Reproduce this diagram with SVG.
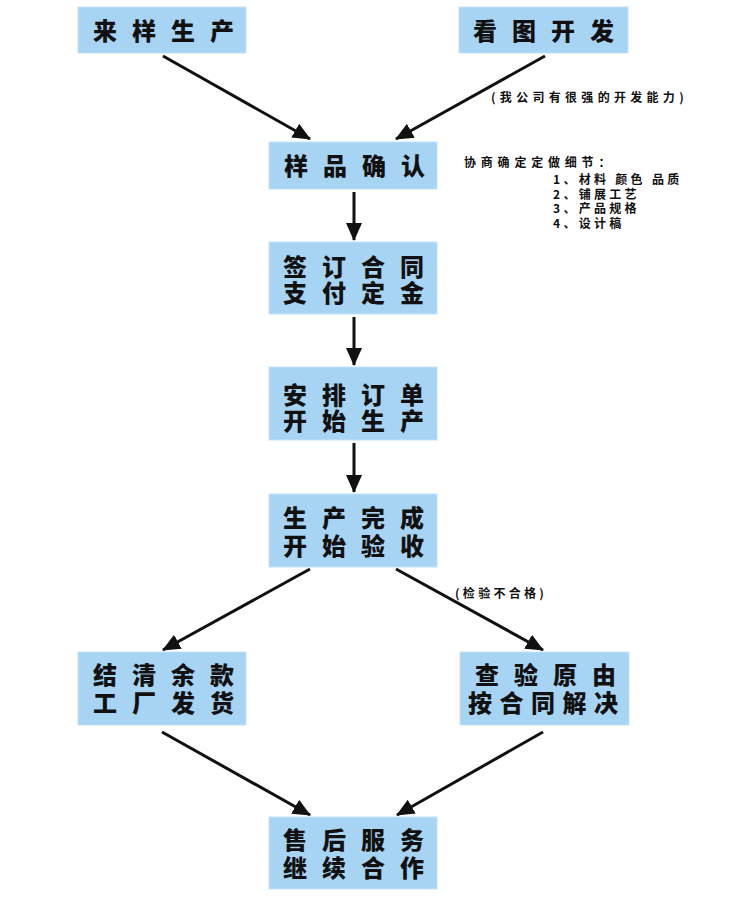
<svg xmlns="http://www.w3.org/2000/svg" width="750" height="917" viewBox="0 0 750 917">
<defs>
<style>
.box{fill:#A8D4F4;stroke:#C4E2F7;stroke-width:1}
.t{font-family:"Noto Sans CJK SC","Noto Sans",sans-serif;font-weight:900;font-size:24px;fill:#111}
.s4{letter-spacing:15px}
.s5{letter-spacing:7.5px}
.note{font-family:"Noto Sans CJK SC","Noto Sans",sans-serif;font-weight:700;font-size:12px;fill:#111;letter-spacing:3.3px}
.c{stroke:#111;stroke-width:3;fill:none;marker-end:url(#ah)}
</style>
<marker id="ah" markerUnits="userSpaceOnUse" markerWidth="18" markerHeight="16" viewBox="0 0 18 16" refX="17" refY="8" orient="auto">
<path d="M0,0 L18,8 L0,16 Z" fill="#111"/>
</marker>
</defs>
<rect width="750" height="917" fill="#fff"/>
<g id="connectors">
<line class="c" x1="163" y1="56" x2="310" y2="139"/>
<line class="c" x1="545" y1="56" x2="396" y2="139"/>
<line class="c" x1="354" y1="192" x2="354" y2="240"/>
<line class="c" x1="354" y1="317" x2="354" y2="365"/>
<line class="c" x1="354" y1="443" x2="354" y2="492"/>
<line class="c" x1="310" y1="569" x2="163" y2="650"/>
<line class="c" x1="396" y1="569" x2="543" y2="650"/>
<line class="c" x1="162" y1="732" x2="310" y2="815"/>
<line class="c" x1="543" y1="732" x2="397" y2="815"/>
</g>
<g id="n1"><rect class="box" x="78" y="7" width="168" height="46"/><text class="t s4" x="93" y="40">来样生产</text></g>
<g id="n2"><rect class="box" x="459" y="7" width="169" height="46"/><text class="t s4" x="473" y="40">看图开发</text></g>
<g id="n3"><rect class="box" x="269" y="142" width="168" height="47"/><text class="t s4" x="284" y="175">样品确认</text></g>
<g id="n4"><rect class="box" x="269" y="242" width="168" height="72"/><text class="t s4" x="283" y="276">签订合同</text><text class="t s4" x="283" y="302">支付定金</text></g>
<g id="n5"><rect class="box" x="269" y="367" width="168" height="73"/><text class="t s4" x="283" y="404">安排订单</text><text class="t s4" x="283" y="430">开始生产</text></g>
<g id="n6"><rect class="box" x="269" y="494" width="168" height="73"/><text class="t s4" x="283" y="527">生产完成</text><text class="t s4" x="283" y="555">开始验收</text></g>
<g id="n7"><rect class="box" x="78" y="652" width="168" height="73"/><text class="t s4" x="93" y="684">结清余款</text><text class="t s4" x="93" y="712">工厂发货</text></g>
<g id="n8"><rect class="box" x="460" y="652" width="169" height="73"/><text class="t s4" x="475" y="684">查验原由</text><text class="t s5" x="468" y="712">按合同解决</text></g>
<g id="n9"><rect class="box" x="269" y="817" width="168" height="72"/><text class="t s4" x="283" y="849">售后服务</text><text class="t s4" x="283" y="877">继续合作</text></g>
<g id="notes">
<text class="note" x="491" y="102" style="letter-spacing:4.3px">(我公司有很强的开发能力)</text>
<text class="note" x="464" y="167" style="letter-spacing:4.8px">协商确定定做细节：</text>
<text class="note" x="553" y="184">1、材料 颜色 品质</text>
<text class="note" x="553" y="199">2、铺展工艺</text>
<text class="note" x="553" y="213">3、产品规格</text>
<text class="note" x="553" y="228">4、设计稿</text>
<text class="note" x="455" y="598">(检验不合格)</text>
</g>
</svg>
